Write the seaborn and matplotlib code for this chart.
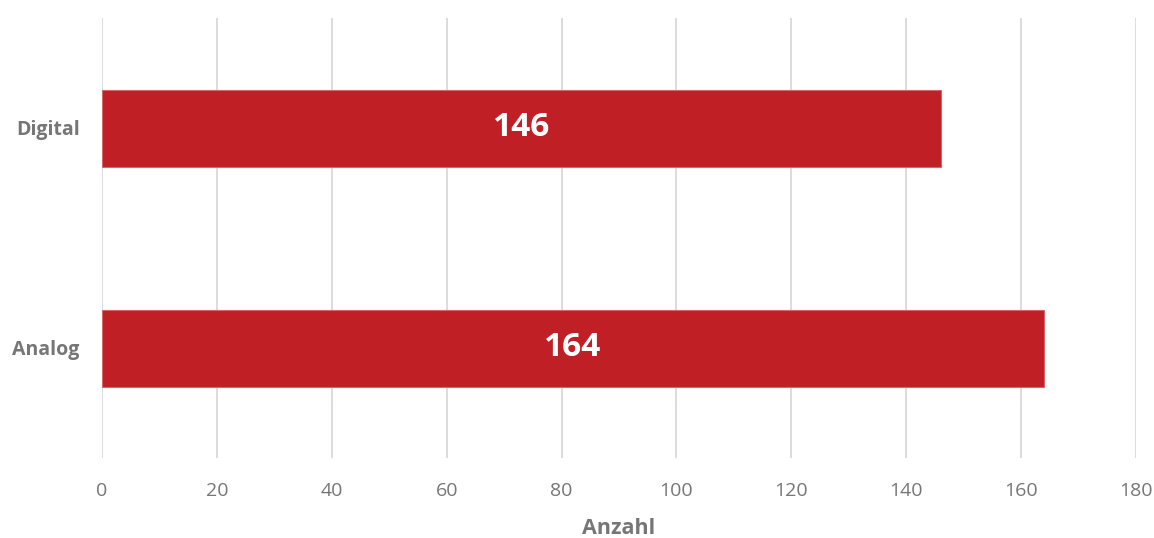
import matplotlib
matplotlib.use("Agg")
import matplotlib.pyplot as plt
import seaborn as sns
import pandas as pd

categories = ["Digital", "Analog"]
values = [146, 164]
x_ticks = [0, 20, 40, 60, 80, 100, 120, 140, 160, 180]
x_label = "Anzahl"

sns.set_style("white")
plt.rcParams["font.family"] = ["Open Sans", "DejaVu Sans"]

gray = "#767676"
bar_color = "#C01F25"

df = pd.DataFrame({"cat": categories, "val": values})

fig = plt.figure(figsize=(11.54, 5.38), dpi=100)
ax = fig.add_axes([102/1154, 1 - 458/538, (1136 - 102)/1154, (458 - 18)/538])

sns.barplot(data=df, x="val", y="cat", order=categories, orient="h",
            color=bar_color, width=0.35, ax=ax, edgecolor="#D9646A", linewidth=0.8,
            saturation=1)

ax.set_xlim(x_ticks[0], x_ticks[-1])
ax.set_ylim(1.5, -0.5)
ax.set_xticks(x_ticks)
ax.set_xticklabels([str(t) for t in x_ticks], fontsize=14, color=gray)
ax.tick_params(axis="x", length=0, pad=17)
ax.tick_params(axis="y", length=0, pad=16)
for lbl in ax.get_yticklabels():
    lbl.set_fontsize(14)
    lbl.set_fontweight("bold")
    lbl.set_color(gray)

ax.grid(axis="x", color="#D9D9D9", linewidth=1.3)
ax.set_axisbelow(True)
for s in ax.spines.values():
    s.set_visible(False)

ax.set_xlabel(x_label, fontsize=15.5, fontweight="bold", color=gray, labelpad=13)
ax.set_ylabel("")

for cont in ax.containers:
    ax.bar_label(cont, labels=[str(v) for v in values], label_type="center",
                 color="white", fontsize=24, fontweight="bold")

fig.savefig("out.png", dpi=100)
